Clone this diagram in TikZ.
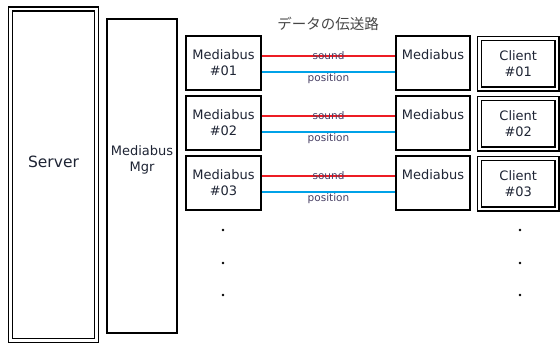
\documentclass[tikz,border=0pt]{standalone}
\usepackage{fontspec}
\setmainfont{DejaVu Sans}
\newfontfamily\jp{Noto Sans CJK JP}
\definecolor{txt}{RGB}{30,36,52}
\definecolor{lbl}{RGB}{72,64,100}
\definecolor{ttl}{RGB}{70,70,70}
\definecolor{soundred}{RGB}{237,28,36}
\definecolor{posblue}{RGB}{0,162,232}
\tikzset{
  dbox/.style={draw, double, double distance=2.6pt, line width=1.5pt, inner sep=0pt},
  mgrbox/.style={draw, line width=1.4pt, inner sep=0pt, minimum width=70pt, minimum height=314pt},
  mbbox/.style={draw, line width=1.9pt, inner sep=0pt, minimum width=75pt, minimum height=54pt, text=txt, font=\fontsize{13}{16}\selectfont, align=center},
  rbbox/.style={draw, line width=1.9pt, inner sep=0pt, minimum width=74pt, minimum height=54pt},
  clbox/.style={dbox, minimum width=77.5pt, minimum height=50.5pt, text=txt, font=\fontsize{13}{16}\selectfont, align=center},
  bigtxt/.style={text=txt, font=\fontsize{13}{16}\selectfont, align=center, inner sep=0pt},
  lbltxt/.style={text=lbl, font=\fontsize{10.5}{12}\selectfont, inner sep=0pt},
  sndline/.style={draw=soundred, line width=1.8pt},
  posline/.style={draw=posblue, line width=1.8pt},
  dotmark/.style={circle, fill=black, inner sep=0pt, minimum size=2.6pt}
}
\begin{document}
\begin{tikzpicture}[x=1pt,y=-1pt]
\useasboundingbox (0,0) rectangle (560,343);
\clip (0,0) rectangle (560,343);
% Server
\node[dbox, minimum width=86pt, minimum height=331.5pt] (server) at (53.5,174.75) {};
\node[bigtxt, font=\fontsize{15.5}{18}\selectfont] (servertxt) at (53.5,162) {Server};
% Mediabus Mgr
\node[mgrbox] (mgr) at (142,176) {};
\node[bigtxt] (mgrtxt) at (142,160) {Mediabus\\Mgr};
% title
\node[text=ttl, font=\jp\fontsize{14.5}{16}\selectfont, inner sep=0pt] (title) at (328,24) {データの伝送路};
% rows
\foreach \i/\n in {0/01,1/02,2/03}{
  \node[mbbox] (l\n) at (223.5,63+60*\i) {Mediabus\\\#\n};
  \node[rbbox] (r\n) at (433,63+60*\i) {};
  \node[bigtxt, anchor=north] (rt\n) at ([yshift=-14.5pt]r\n.north) {Mediabus};
  \node[clbox] (c\n) at (518.25,63.75+60*\i) {Client\\\#\n};
  \draw[sndline] ([yshift=7pt]l\n.east) -- node[lbltxt, above=-4.5pt] {sound} ([yshift=7pt]r\n.west);
  \draw[posline] ([yshift=-9pt]l\n.east) -- node[lbltxt, below=1pt] {position} ([yshift=-9pt]r\n.west);
}
% dots
\foreach \y [count=\k] in {230,263,295}{
  \node[dotmark] (dl\k) at (223,\y) {};
  \node[dotmark] (dr\k) at (520,\y) {};
}
\end{tikzpicture}
\end{document}
